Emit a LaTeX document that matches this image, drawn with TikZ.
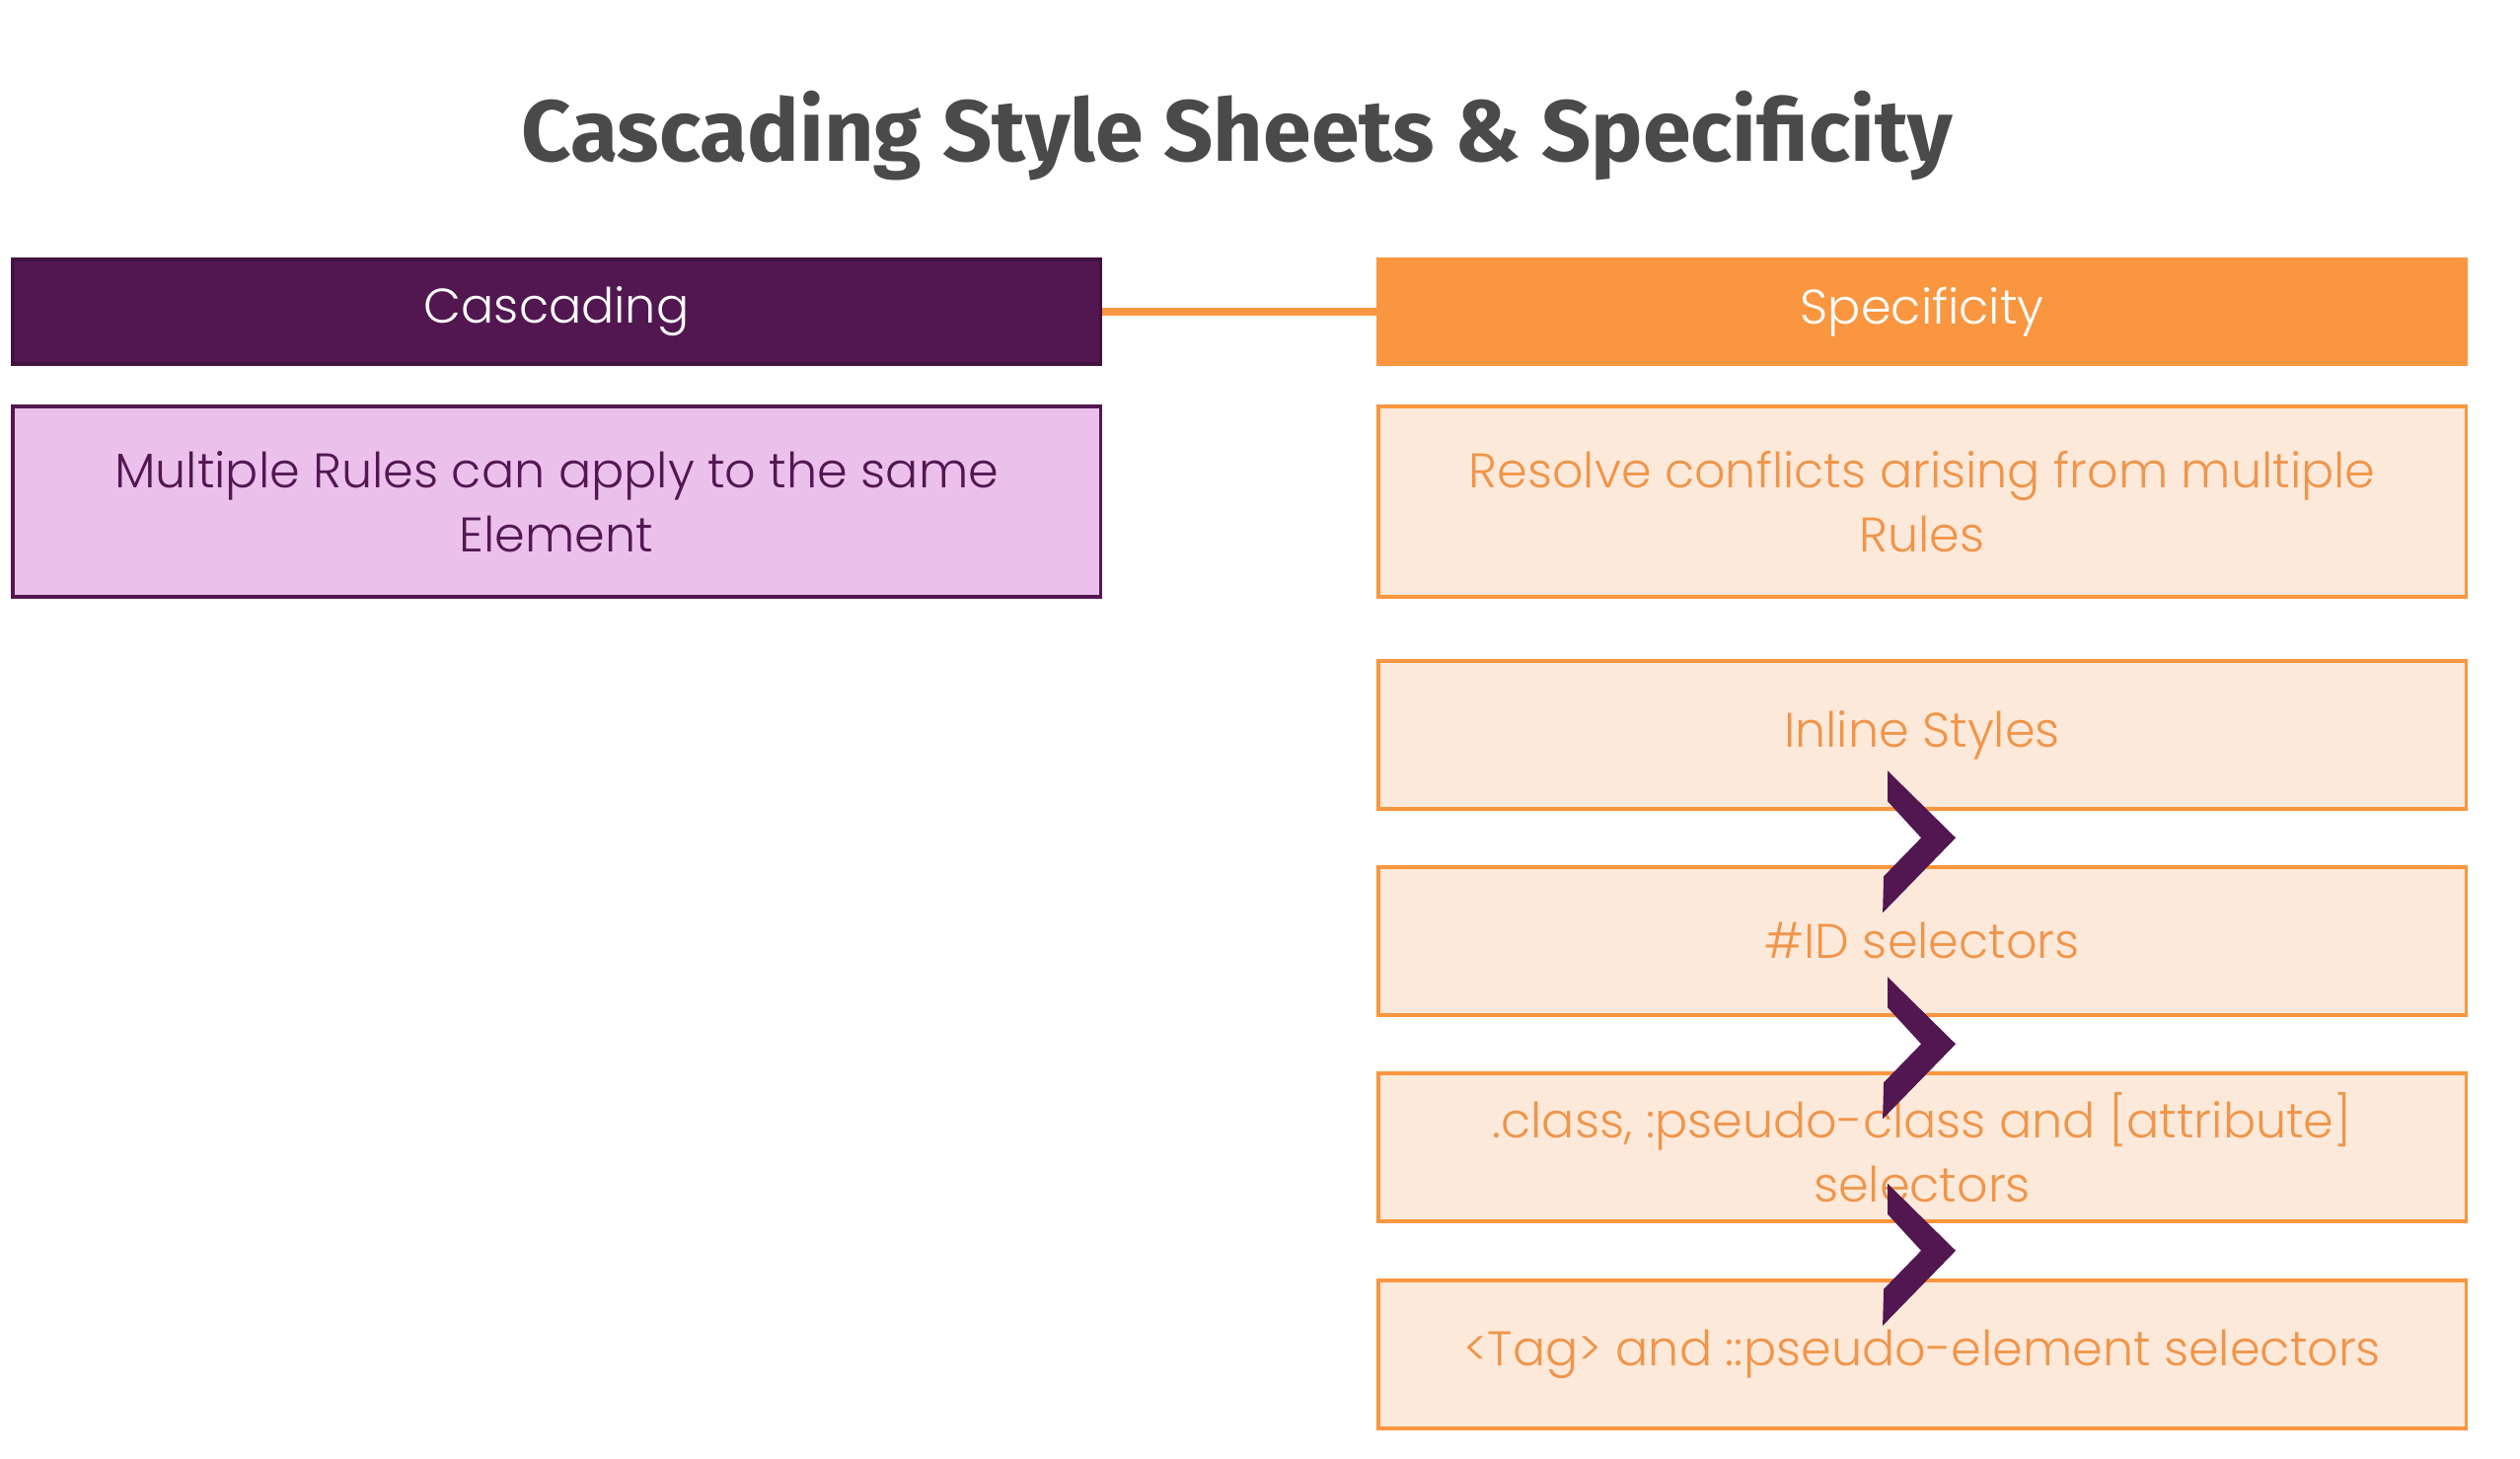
\documentclass[tikz,border=0pt]{standalone}
\usepackage{fontspec}
\setmainfont{Poppins}[UprightFont=* Light]
\newfontfamily\titlefont{Fira Sans}
\usetikzlibrary{calc}
\definecolor{purp}{HTML}{521751}
\definecolor{lilac}{HTML}{EBC1EC}
\definecolor{orng}{HTML}{F9963F}
\definecolor{peach}{HTML}{FDE9DA}
\definecolor{orngtext}{HTML}{F0954A}
\definecolor{titlegray}{HTML}{4A4A4A}
\tikzset{
  txt/.style={font=\fontsize{14}{18.5}\selectfont, align=center, inner sep=0pt},
  head/.style={txt, anchor=north west, minimum width=11.02cm, minimum height=1.06cm, line width=1pt},
  cashead/.style={head, fill=purp, draw=purp!80!black, text=white},
  spechead/.style={head, fill=orng, draw=orng, text=white},
  casbody/.style={txt, anchor=north west, minimum width=11.02cm, minimum height=1.93cm, fill=lilac, draw=purp, line width=1pt, text=purp},
  specbody/.style={txt, anchor=north west, minimum width=11.02cm, fill=peach, draw=orng, line width=1pt, text=orngtext},
  link/.style={draw=orng, line width=2.3pt},
  chev/.style={fill=purp}
}
\begin{document}
\begin{tikzpicture}[x=0.01cm, y=-0.01cm]
\useasboundingbox[fill=white] (0,0) rectangle (2554,1478);
\node[font=\titlefont\bfseries\fontsize{25}{29}\selectfont, text=titlegray, anchor=base] (title) at (1254,163) {Cascading Style Sheets \& Specificity};
\node[cashead] (cas) at (11,261) {Cascading};
\node[spechead] (spec) at (1395,261) {Specificity};
\draw[link] (cas.east) -- (spec.west);
\node[casbody] (casb) at (11,410) {Multiple Rules can apply to the same\\Element};
\node[specbody, minimum height=1.93cm] (resolve) at (1395,410) {Resolve conflicts arising from multiple\\Rules};
\node[specbody, minimum height=1.5cm] (inline) at (1395,668) {Inline Styles};
\node[specbody, minimum height=1.5cm] (idsel) at (1395,877) {\#ID selectors};
\node[specbody, minimum height=1.5cm] (classsel) at (1395,1086) {.class, :pseudo-class and [attribute]\\selectors};
\node[specbody, minimum height=1.5cm] (tagsel) at (1395,1296) {<Tag> and ::pseudo-element selectors};
\foreach \a/\b in {inline/idsel, idsel/classsel, classsel/tagsel}{
  \begin{scope}[shift={($(\a.south)!0.5!(\b.north)$)}]
    \fill[chev] (-35,-68) -- (34,0) -- (-40,76) -- (-39,39) -- (-1,0) -- (-35,-37) -- cycle;
  \end{scope}
}
\end{tikzpicture}
\end{document}
